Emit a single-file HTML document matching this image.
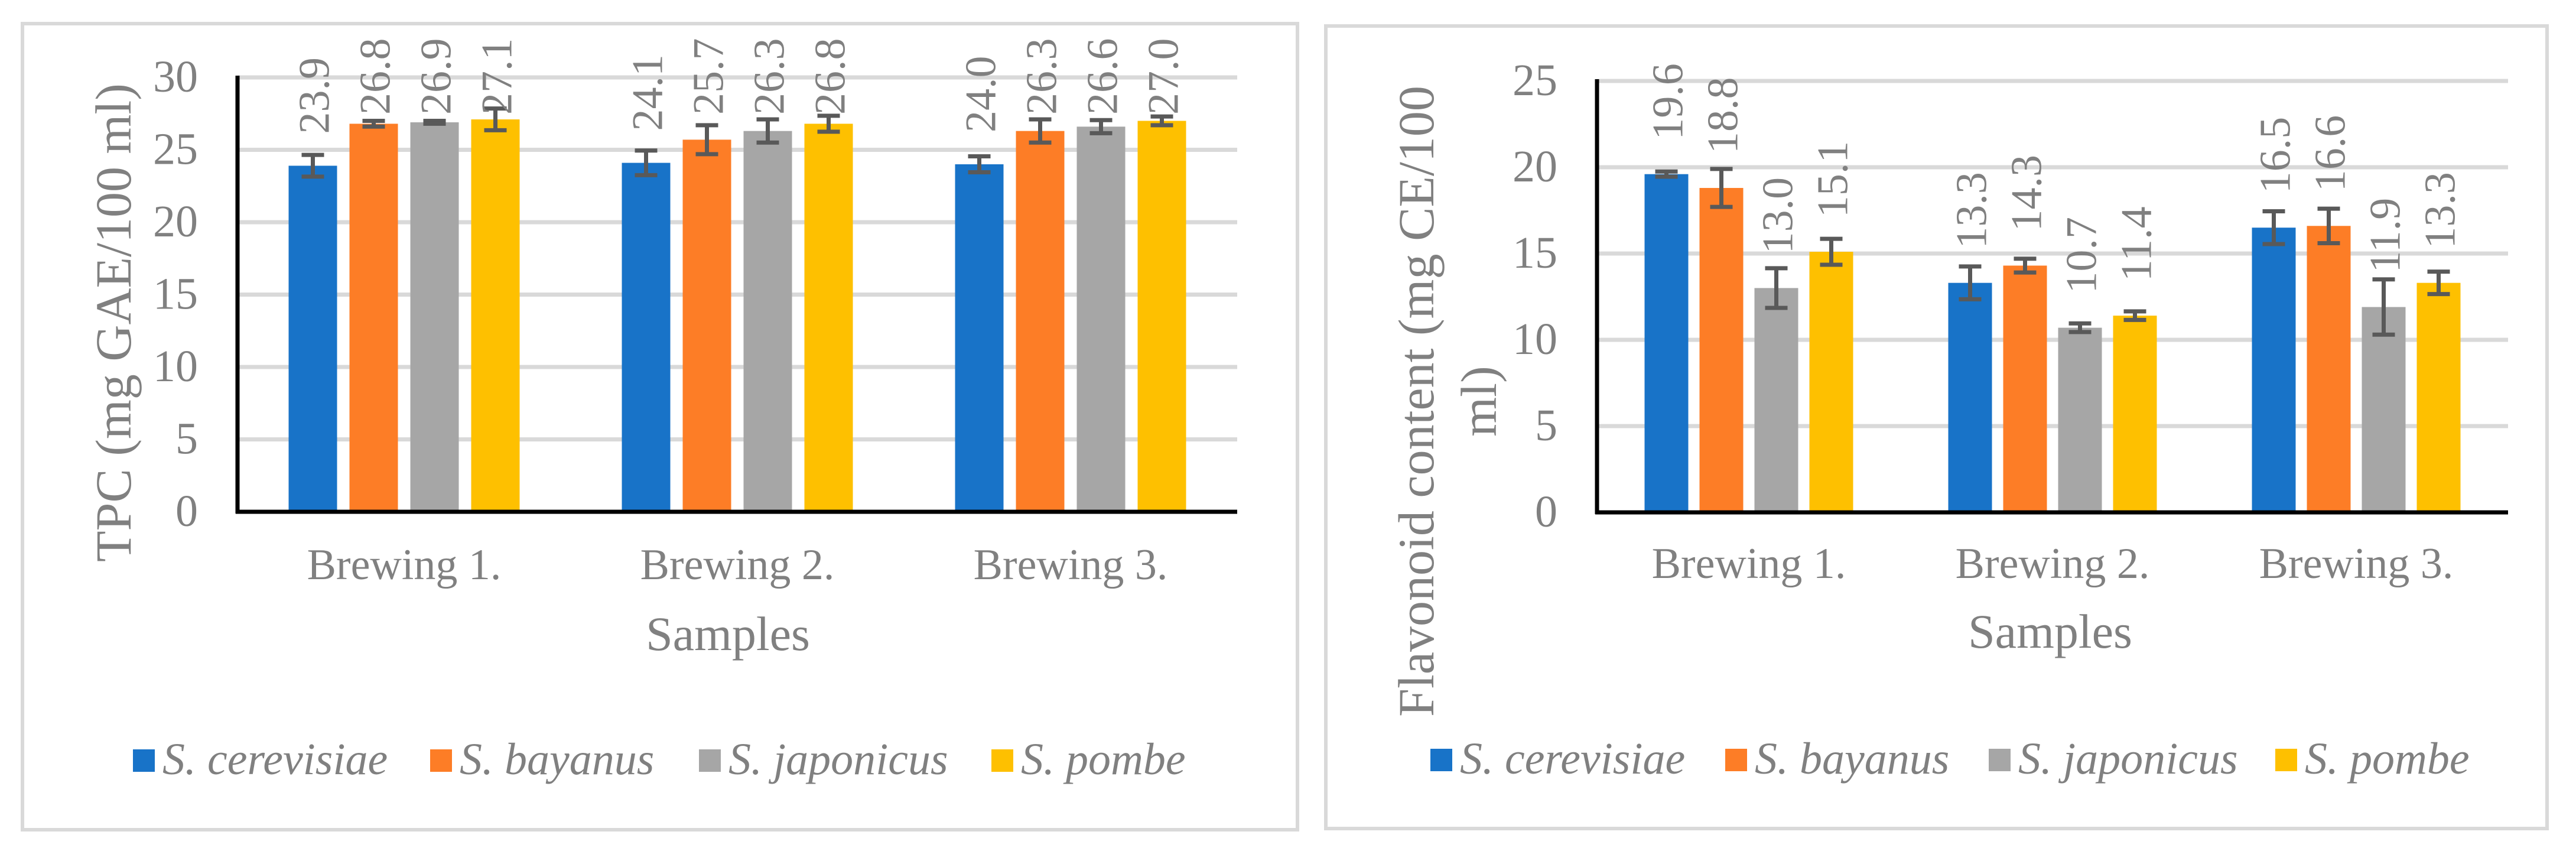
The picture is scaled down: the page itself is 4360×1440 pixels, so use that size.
<!DOCTYPE html>
<html><head><meta charset="utf-8"><style>
html,body{margin:0;padding:0;background:#fff;}
svg{display:block;}
text{font-family:"Liberation Serif",serif;fill:#808080;}
</style></head><body>
<svg id="fig" width="4360" height="1440" viewBox="0 0 4360 1440" xmlns="http://www.w3.org/2000/svg">
<rect x="38" y="40" width="2158" height="1364" fill="#fff" stroke="#d9d9d9" stroke-width="6"/>
<rect x="2244" y="44" width="2067" height="1358" fill="#fff" stroke="#d9d9d9" stroke-width="6"/>
<g id="left"></g>
<g id="right"></g>
</svg>
<script>
const categories = ["Brewing 1.", "Brewing 2.", "Brewing 3."];
const seriesNames = ["S. cerevisiae", "S. bayanus", "S. japonicus", "S. pombe"];
const tpcCerevisiae = [23.9, 24.1, 24.0];
const tpcBayanus = [26.8, 25.7, 26.3];
const tpcJaponicus = [26.9, 26.3, 26.6];
const tpcPombe = [27.1, 26.8, 27.0];
const tpcErrCerevisiae = [0.75, 0.85, 0.55];
const tpcErrBayanus = [0.2, 1.0, 0.8];
const tpcErrJaponicus = [0.1, 0.8, 0.45];
const tpcErrPombe = [0.75, 0.55, 0.3];
const tpcTicks = [0, 5, 10, 15, 20, 25, 30];
const flavCerevisiae = [19.6, 13.3, 16.5];
const flavBayanus = [18.8, 14.3, 16.6];
const flavJaponicus = [13.0, 10.7, 11.9];
const flavPombe = [15.1, 11.4, 13.3];
const flavErrCerevisiae = [0.15, 0.95, 0.95];
const flavErrBayanus = [1.1, 0.4, 1.0];
const flavErrJaponicus = [1.15, 0.25, 1.6];
const flavErrPombe = [0.75, 0.25, 0.65];
const flavTicks = [0, 5, 10, 15, 20, 25];

const colors = ["#1873c8", "#fd7d26", "#a6a6a6", "#fec000"];
const NS = "http://www.w3.org/2000/svg";
function mk(parent, tag, attrs, txt) {
  const e = document.createElementNS(NS, tag);
  for (const k in attrs) e.setAttribute(k, attrs[k]);
  if (txt !== undefined) e.textContent = txt;
  parent.appendChild(e);
  return e;
}

function drawChart(g, cfg) {
  const yScale = v => cfg.y0 - (v - cfg.min) / (cfg.max - cfg.min) * (cfg.y0 - cfg.yTop);
  const catW = (cfg.x1 - cfg.x0) / categories.length;
  cfg.ticks.forEach(t => {
    const y = yScale(t);
    if (t !== 0) {
      const l = mk(g, "line", {x1: cfg.x0, x2: cfg.x1, y1: y, y2: y, stroke: "#d9d9d9", "stroke-width": 7});
      
      
    }
    const tx = mk(g, "text", {x: cfg.x0 - 67, y: y + 24, "text-anchor": "end", "font-size": 76}, String(t));
    
    
  });
  const barW = cfg.barW, gap = cfg.gap;
  const groupW = 4 * barW + 3 * gap;
  cfg.series.forEach((vals, si) => {
    vals.forEach((v, ci) => {
      const cx = cfg.x0 + catW * (ci + 0.5) - groupW / 2 + si * (barW + gap);
      const yt = yScale(v);
      const r = mk(g, "rect", {x: cx, y: yt, width: barW, height: yScale(0) - yt, fill: colors[si]});
      
      
      const e = cfg.errs[si][ci];
      const ya = yScale(v + e), yb = yScale(v - e), mx = cx + barW / 2;
      const eg = mk(g, "g", {stroke: "#595959", "stroke-width": 7});
      
      
      mk(eg, "line", {x1: mx, x2: mx, y1: ya, y2: yb});
      mk(eg, "line", {x1: mx - 19, x2: mx + 19, y1: ya, y2: ya});
      mk(eg, "line", {x1: mx - 19, x2: mx + 19, y1: yb, y2: yb});
      const len = 128;
      let bottom = yt - cfg.labelGap;
      if (bottom - len < cfg.labelTop) bottom = cfg.labelTop + len;
      const lx = mx + 27;
      const lt = mk(g, "text", {x: 0, y: 0, "font-size": 74, fill: "#595959", transform: `translate(${lx},${bottom}) rotate(-90)`}, v.toFixed(1));
      
      
    });
  });
  const ax = mk(g, "line", {x1: cfg.x0, x2: cfg.x0, y1: cfg.yTop - 3, y2: cfg.y0 + 3, stroke: "#000", "stroke-width": 7});
  
  
  const bx = mk(g, "line", {x1: cfg.x0 - 3, x2: cfg.x1, y1: cfg.y0, y2: cfg.y0, stroke: "#000", "stroke-width": 7});
  
  
  categories.forEach((c, ci) => {
    const t = mk(g, "text", {x: cfg.x0 + catW * (ci + 0.5), y: cfg.catY, "text-anchor": "middle", "font-size": 74}, c);
    
    
  });
  const xt = mk(g, "text", {x: cfg.xTitleX, y: cfg.xTitleY, "text-anchor": "middle", "font-size": 82}, "Samples");
  
  
  cfg.yTitle.forEach(line => {
    const yt = mk(g, "text", {x: 0, y: 0, "text-anchor": "middle", "font-size": 86, transform: `translate(${line.x},${line.y}) rotate(-90)`}, line.t);
    
    
  });
  seriesNames.forEach((n, i) => {
    const lg = mk(g, "g", {});
    
    
    mk(lg, "rect", {x: cfg.legX[i], y: cfg.legY - 38, width: 37, height: 38, fill: colors[i]});
    mk(lg, "text", {x: cfg.legX[i] + 50, y: cfg.legY + 4, "font-size": 76, "font-style": "italic"}, n);
  });
}

drawChart(document.getElementById("left"), {
  x0: 402, x1: 2094, yTop: 131, y0: 866, min: 0, max: 30, ticks: tpcTicks,
  barW: 82, gap: 21,
  series: [tpcCerevisiae, tpcBayanus, tpcJaponicus, tpcPombe],
  errs: [tpcErrCerevisiae, tpcErrBayanus, tpcErrJaponicus, tpcErrPombe],
  labelGap: 54, labelTop: 66,
  catY: 980, xTitleX: 1232, xTitleY: 1100,
  yTitle: [{t: "TPC (mg GAE/100 ml)", x: 221, y: 546}],
  legX: [225, 728, 1183, 1678], legY: 1306
});
drawChart(document.getElementById("right"), {
  x0: 2703, x1: 4245, yTop: 137, y0: 867, min: 0, max: 25, ticks: flavTicks,
  barW: 74, gap: 19,
  series: [flavCerevisiae, flavBayanus, flavJaponicus, flavPombe],
  errs: [flavErrCerevisiae, flavErrBayanus, flavErrJaponicus, flavErrPombe],
  labelGap: 58, labelTop: 70,
  catY: 978, xTitleX: 3470, xTitleY: 1096,
  yTitle: [{t: "Flavonoid content (mg CE/100", x: 2426, y: 679}, {t: "ml)", x: 2532, y: 679}],
  legX: [2421, 2920, 3366, 3851], legY: 1305
});
</script>
</body></html>
